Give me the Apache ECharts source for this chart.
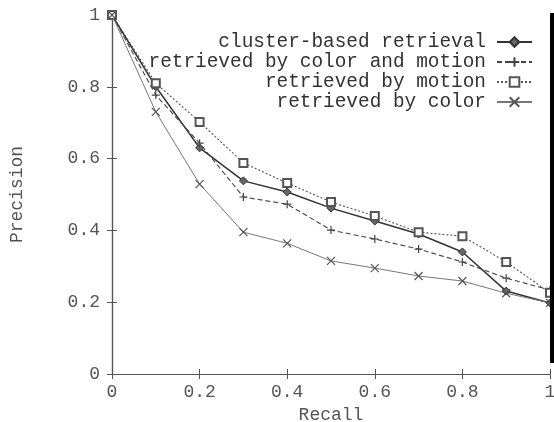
<!DOCTYPE html>
<html><head><meta charset="utf-8">
<script src="https://cdn.jsdelivr.net/npm/echarts@6/dist/echarts.min.js"></script>
<style>html,body{margin:0;padding:0;background:#fff}#c{width:554px;height:422px}</style>
</head><body><div id="c"></div>
<script>
const recall = [0, 0.1, 0.2, 0.3, 0.4, 0.5, 0.6, 0.7, 0.8, 0.9, 1.0];
const clusterBased = [1, 0.80, 0.63, 0.538, 0.507, 0.462, 0.426, 0.39, 0.34, 0.231, 0.198];
const colorAndMotion = [1, 0.777, 0.643, 0.493, 0.473, 0.401, 0.376, 0.348, 0.312, 0.267, 0.234];
const byMotion = [1, 0.81, 0.702, 0.588, 0.532, 0.479, 0.44, 0.395, 0.384, 0.312, 0.226];
const byColor = [1, 0.73, 0.529, 0.395, 0.364, 0.315, 0.295, 0.273, 0.259, 0.225, 0.198];
const seriesNames = ['cluster-based retrieval', 'retrieved by color and motion', 'retrieved by motion', 'retrieved by color'];
const tickValues = [0, 0.2, 0.4, 0.6, 0.8, 1];

const pairs = arr => recall.map((r, i) => [r, arr[i]]);
const mono = 'Liberation Mono';
const axisCommon = {
  type: 'value', min: 0, max: 1, interval: 0.2,
  axisLine: { show: true, lineStyle: { color: '#555', width: 1.2 } },
  axisTick: { show: true, inside: true, length: 5, lineStyle: { color: '#555' } },
  splitLine: { show: false },
  axisLabel: { fontFamily: mono, fontSize: 18, color: '#555' }
};
const chart = echarts.init(document.getElementById('c'), null, { renderer: 'canvas' });
const plus = 'path://M0,5L10,5M5,0L5,10';
const cross = 'path://M0,0L10,10M10,0L0,10';
const legendTops = [32, 52, 72, 92];
chart.setOption({
  animation: false,
  backgroundColor: '#fff',
  grid: { left: 112, right: 4, top: 15, bottom: 48, containLabel: false, outerBoundsMode: 'none' },
  xAxis: [
    Object.assign({}, axisCommon, { position: 'bottom', name: 'Recall', nameLocation: 'middle', nameGap: 27,
      nameTextStyle: { fontFamily: mono, fontSize: 18, color: '#555' },
      axisLabel: { fontFamily: mono, fontSize: 18, color: '#555', margin: 9 } }),
    Object.assign({}, axisCommon, { position: 'top', axisLabel: { show: false } })
  ],
  yAxis: [
    Object.assign({}, axisCommon, { position: 'left', name: 'Precision', nameLocation: 'middle', nameGap: 86,
      nameTextStyle: { fontFamily: mono, fontSize: 18, color: '#555' },
      axisLabel: { fontFamily: mono, fontSize: 18, color: '#555', margin: 12 } }),
    Object.assign({}, axisCommon, { position: 'right', axisLabel: { show: false } })
  ],
  legend: seriesNames.map((n, i) => ({
    data: [n], right: 21, top: legendTops[i], padding: 0, itemWidth: 35, itemHeight: 12,
    align: 'right', selectedMode: false,
    textStyle: { fontFamily: mono, fontSize: 19.4, color: '#333', lineHeight: 20, padding: [0, 6, 0, 0] }
  })),
  series: [
    { name: seriesNames[0], type: 'line', data: pairs(clusterBased), symbol: 'diamond', symbolSize: 8,
      lineStyle: { color: '#333', width: 1.5, type: 'solid' },
      itemStyle: { color: '#666', borderColor: '#333', borderWidth: 1 } },
    { name: seriesNames[1], type: 'line', data: pairs(colorAndMotion), symbol: plus, symbolSize: 8,
      lineStyle: { color: '#444', width: 1.1, type: [5, 3] },
      itemStyle: { color: 'none', borderColor: '#444', borderWidth: 1.2 } },
    { name: seriesNames[2], type: 'line', data: pairs(byMotion), symbol: 'emptyRect', symbolSize: 8,
      lineStyle: { color: '#555', width: 1.1, type: [2, 2] },
      itemStyle: { color: '#555', borderColor: '#555', borderWidth: 1 } },
    { name: seriesNames[3], type: 'line', data: pairs(byColor), symbol: cross, symbolSize: 8,
      lineStyle: { color: '#777', width: 1, type: 'solid' },
      itemStyle: { color: 'none', borderColor: '#555', borderWidth: 1.2 } }
  ],
  graphic: [
    { type: 'rect', shape: { x: 550, y: 13, width: 4, height: 350 }, style: { fill: '#000' }, z: 100 }
  ]
});
</script></body></html>
